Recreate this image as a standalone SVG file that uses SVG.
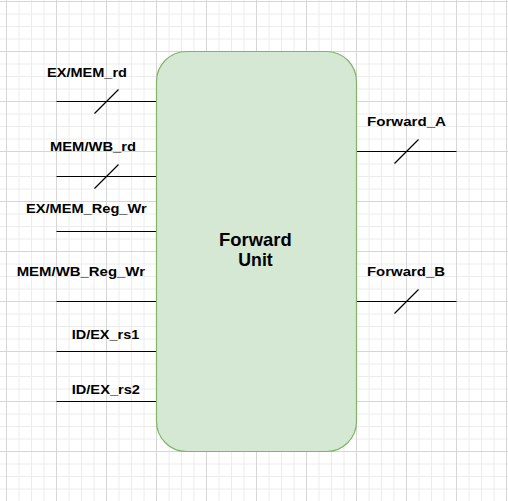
<svg xmlns="http://www.w3.org/2000/svg" width="508" height="501" viewBox="0 0 508 501">
<style>
.minor{stroke:#ececec;stroke-width:1;fill:none}
.major{stroke:#d6d6d6;stroke-width:1;fill:none}
.wire{stroke:#000;stroke-width:1.2;fill:none}
.lbl{font-family:"Liberation Sans",Arial,sans-serif;font-weight:bold;font-size:13.5px;fill:#000}
.title{font-family:"Liberation Sans",Arial,sans-serif;font-weight:bold;font-size:18.5px;fill:#000}
.box{fill:#d5e8d4;stroke:#82b366;stroke-width:1.2}
</style>
<rect x="0" y="0" width="508" height="501" fill="#ffffff"/>
<g id="grid">
<path class="minor" d="M19 0V501M31.5 0V501M44 0V501M69 0V501M81.5 0V501M94 0V501M119 0V501M131.5 0V501M144 0V501M169 0V501M181.5 0V501M194 0V501M219 0V501M231.5 0V501M244 0V501M269 0V501M281.5 0V501M294 0V501M319 0V501M331.5 0V501M344 0V501M369 0V501M381.5 0V501M394 0V501M419 0V501M431.5 0V501M444 0V501M469 0V501M481.5 0V501M494 0V501
M0 14H508M0 26.5H508M0 39H508M0 64H508M0 76.5H508M0 89H508M0 114H508M0 126.5H508M0 139H508M0 164H508M0 176.5H508M0 189H508M0 214H508M0 226.5H508M0 239H508M0 264H508M0 276.5H508M0 289H508M0 314H508M0 326.5H508M0 339H508M0 364H508M0 376.5H508M0 389H508M0 414H508M0 426.5H508M0 439H508M0 464H508M0 476.5H508M0 489H508"/>
<path class="major" d="M6.5 0V501M56.5 0V501M106.5 0V501M156.5 0V501M206.5 0V501M256.5 0V501M306.5 0V501M356.5 0V501M406.5 0V501M456.5 0V501M506.5 0V501
M0 1.5H508M0 51.5H508M0 101.5H508M0 151.5H508M0 201.5H508M0 251.5H508M0 301.5H508M0 351.5H508M0 401.5H508M0 451.5H508"/>
</g>
<g id="connectors">
<path class="wire" d="M56.5 101.5H156.5M56.5 176.5H156.5M56.5 231.5H156.5M56.5 301.5H156.5M56.5 351.5H156.5M56.5 401.5H156.5M356.5 151.5H456.5M356.5 301.5H456.5"/>
<path class="wire" d="M94.5 113.5L118.5 89.5M94.5 188.5L118.5 164.5M394.5 163.5L418.5 139.5M394.5 313.5L418.5 289.5"/>
</g>
<g id="forward-unit">
<rect class="box" x="156.5" y="51.5" width="200" height="400" rx="30" ry="30"/>
<text class="title" x="219" y="246" textLength="72.7" lengthAdjust="spacingAndGlyphs">Forward</text>
<text class="title" x="238.3" y="266" textLength="34.4" lengthAdjust="spacingAndGlyphs">Unit</text>
</g>
<g id="labels">
<text class="lbl" x="47" y="76.5" textLength="80" lengthAdjust="spacingAndGlyphs">EX/MEM_rd</text>
<text class="lbl" x="50" y="151" textLength="86" lengthAdjust="spacingAndGlyphs">MEM/WB_rd</text>
<text class="lbl" x="26" y="212.5" textLength="120.7" lengthAdjust="spacingAndGlyphs">EX/MEM_Reg_Wr</text>
<text class="lbl" x="16.7" y="276" textLength="128.3" lengthAdjust="spacingAndGlyphs">MEM/WB_Reg_Wr</text>
<text class="lbl" x="71.7" y="339" textLength="67.6" lengthAdjust="spacingAndGlyphs">ID/EX_rs1</text>
<text class="lbl" x="71.7" y="394" textLength="68.3" lengthAdjust="spacingAndGlyphs">ID/EX_rs2</text>
<text class="lbl" x="367" y="125.7" textLength="79" lengthAdjust="spacingAndGlyphs">Forward_A</text>
<text class="lbl" x="367" y="275.7" textLength="78" lengthAdjust="spacingAndGlyphs">Forward_B</text>
</g>
</svg>
